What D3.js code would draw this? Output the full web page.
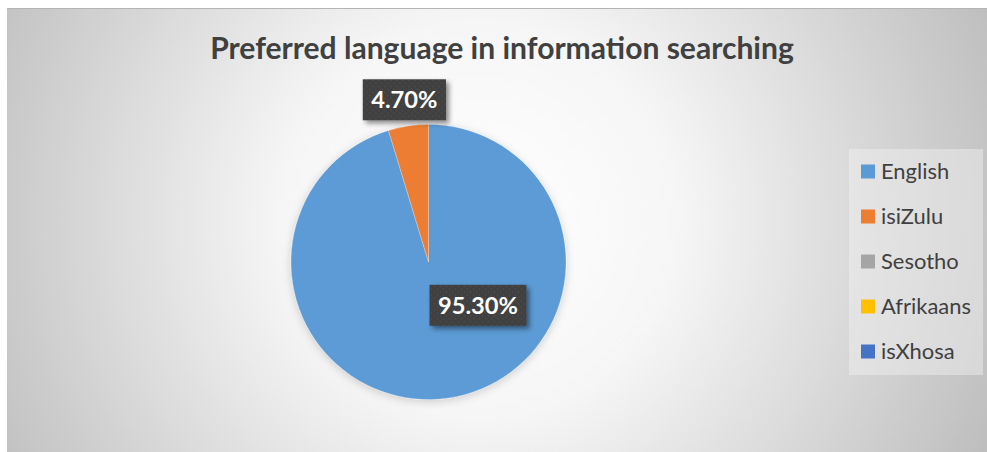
<!DOCTYPE html>
<html>
<head>
<meta charset="utf-8">
<script src="https://cdn.jsdelivr.net/npm/d3@7"></script>
<style>
  body { margin: 0; background: #fff; }
  svg { display: block; font-family: Lato, "Open Sans", sans-serif; }
</style>
</head>
<body>
<div id="chart"></div>
<script>
// values
var categories = ["English", "isiZulu", "Sesotho", "Afrikaans", "isXhosa"];
var shares = [95.3, 4.7, 0, 0, 0];
var labels = ["95.30%", "4.70%", "", "", ""];
var palette = ["#5b9bd5", "#ed7d31", "#a5a5a5", "#ffc000", "#4472c4"];
var title = "Preferred language in information searching";

var width = 987, height = 452;
var cx = 428.5, cy = 262, radius = 137.5;

var svg = d3.select("#chart").append("svg")
	.attr("width", width)
	.attr("height", height);

var defs = svg.append("defs");

var bg = defs.append("radialGradient")
	.attr("id", "bg")
	.attr("gradientUnits", "userSpaceOnUse")
	.attr("cx", 480).attr("cy", 220).attr("r", 560);
bg.append("stop").attr("offset", "0").attr("stop-color", "#ffffff");
bg.append("stop").attr("offset", "0.35").attr("stop-color", "#f6f6f6");
bg.append("stop").attr("offset", "1").attr("stop-color", "#bdbdbd");

var shadow = defs.append("filter").attr("id", "shadow")
	.attr("x", "-20%").attr("y", "-20%").attr("width", "150%").attr("height", "150%");
shadow.append("feDropShadow")
	.attr("dx", 3).attr("dy", 3).attr("stdDeviation", 2.5)
	.attr("flood-color", "#000").attr("flood-opacity", 0.45);

var pieShadow = defs.append("filter").attr("id", "pieShadow")
	.attr("x", "-20%").attr("y", "-20%").attr("width", "140%").attr("height", "140%");
pieShadow.append("feDropShadow")
	.attr("dx", 0).attr("dy", 2).attr("stdDeviation", 4)
	.attr("flood-color", "#000").attr("flood-opacity", 0.18);

var dots = defs.append("pattern").attr("id", "dots")
	.attr("patternUnits", "userSpaceOnUse")
	.attr("width", 6).attr("height", 6);
dots.append("rect").attr("width", 6).attr("height", 6).attr("fill", "#404040");
dots.append("circle").attr("cx", 1.5).attr("cy", 1.5).attr("r", 0.9).attr("fill", "#4b4b4b");
dots.append("circle").attr("cx", 4.5).attr("cy", 4.5).attr("r", 0.9).attr("fill", "#4b4b4b");

// chart area
svg.append("rect")
	.attr("x", 7).attr("y", 8)
	.attr("width", width - 7).attr("height", height - 8)
	.attr("fill", "url(#bg)");
svg.append("line")
	.attr("x1", 7).attr("x2", width).attr("y1", 8.5).attr("y2", 8.5)
	.attr("stroke", "#b4b4b4");

// title
var titleText = svg.append("text")
	.attr("x", 502).attr("y", 59)
	.attr("text-anchor", "middle")
	.attr("font-weight", "bold")
	.attr("font-size", 30)
	.attr("fill", "#404040")
	.text(title);
titleText.attr("font-size", 30 * 584 / titleText.node().getComputedTextLength());

// pie
var pie = d3.pie().sort(null).value(function (d) { return d; });
var arcs = pie(shares);
var arc = d3.arc().innerRadius(0).outerRadius(radius);

var pieG = svg.append("g")
	.attr("transform", "translate(" + cx + "," + cy + ")");

pieG.append("g")
	.attr("filter", "url(#pieShadow)")
	.selectAll("path")
	.data(arcs.filter(function (d) { return d.value > 0; }))
	.join("path")
	.attr("d", arc)
	.attr("fill", function (d) { return palette[d.index]; })
	.attr("stroke", "#ffffff")
	.attr("stroke-opacity", 0.35)
	.attr("stroke-width", 0.7);

// data labels: small slice outside, big slice inside (excel best fit)
var outerLabelArc = d3.arc().innerRadius(radius + 26.5).outerRadius(radius + 26.5);

function labelPos(d) {
	if (d.endAngle - d.startAngle > Math.PI) {
		return [radius * 0.36, radius * 0.315];
	}
	return outerLabelArc.centroid(d);
}

var labelG = pieG.selectAll("g.label")
	.data(arcs.filter(function (d) { return d.value > 0; }))
	.join("g")
	.attr("class", "label")
	.attr("transform", function (d) {
		var p = labelPos(d);
		return "translate(" + p[0] + "," + p[1] + ")";
	});

var labelBoxes = labelG.append("rect")
	.attr("fill", "url(#dots)")
	.attr("filter", "url(#shadow)");

var labelTexts = labelG.append("text")
	.attr("text-anchor", "middle")
	.attr("dy", "0.35em")
	.attr("font-weight", "bold")
	.attr("font-size", 25)
	.attr("fill", "#ffffff")
	.text(function (d) { return labels[d.index]; });

// size the label font to the reference width of "95.30%"
var refLen = labelTexts.nodes()[0].getComputedTextLength();
var labelSize = 25 * 80 / refLen;
labelTexts.attr("font-size", labelSize);

labelBoxes.each(function (d, i) {
	var w = labelTexts.nodes()[i].getComputedTextLength() + 17;
	d3.select(this)
		.attr("x", -w / 2).attr("y", -20.5)
		.attr("width", w).attr("height", 41);
});

// legend
var legend = svg.append("g");
legend.append("rect")
	.attr("x", 849).attr("y", 149)
	.attr("width", 134).attr("height", 226)
	.attr("fill", "#f2f2f2")
	.attr("fill-opacity", 0.45);

var legendY = d3.scalePoint()
	.domain(categories)
	.range([171.5, 351.5]);

var items = legend.selectAll("g.item")
	.data(categories)
	.join("g")
	.attr("class", "item")
	.attr("transform", function (d) { return "translate(861," + legendY(d) + ")"; });

items.append("rect")
	.attr("x", 0).attr("y", -7)
	.attr("width", 14).attr("height", 14)
	.attr("fill", function (d, i) { return palette[i]; });

var legendTexts = items.append("text")
	.attr("x", 20)
	.attr("dy", "0.35em")
	.attr("font-size", 20)
	.attr("fill", "#404040")
	.text(function (d) { return d; });

var afrLen = legendTexts.nodes()[3].getComputedTextLength();
legendTexts.attr("font-size", 20 * 90 / afrLen);
</script>
</body>
</html>
